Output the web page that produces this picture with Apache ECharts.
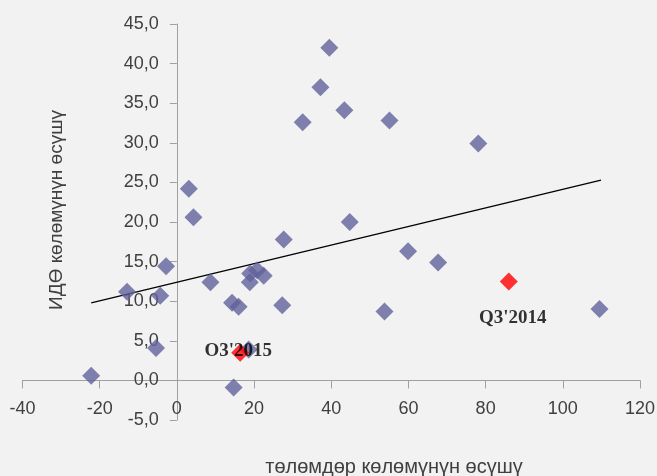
<!DOCTYPE html>
<html>
<head>
<meta charset="utf-8">
<script src="https://cdn.jsdelivr.net/npm/echarts@6/dist/echarts.min.js"></script>
<style>
html,body{margin:0;padding:0;background:#f2f2f2;}
#c{width:657px;height:476px;}
</style>
</head>
<body>
<div id="c"></div>
<script>
// Blue points: payments volume growth (x) vs FDI volume growth (y)
var blueX = [-22.2, -12.9, -5.4, -4.3, -2.8, 3.1, 4.3, 8.7, 14.3, 16.0, 14.7, 18.6, 18.9, 19.0, 20.8, 22.5, 27.3, 27.7, 32.6, 37.2, 39.5, 43.4, 44.8, 55.1, 53.8, 59.9, 67.7, 78.1, 109.5];
var blueY = [0.6, 11.2, 4.1, 10.7, 14.4, 24.2, 20.6, 12.4, 9.8, 9.3, -0.9, 3.9, 12.4, 13.5, 13.9, 13.2, 9.5, 17.8, 32.6, 37.0, 42.0, 34.1, 20.0, 32.8, 8.7, 16.3, 14.9, 29.9, 9.0];
// Highlighted points
var redNames = ["O3'2015", "Q3'2014"];
var redX = [16.4, 86.0];
var redY = [3.5, 12.5];
// Trend line end points
var trendX = [-22.2, 109.9];
var trendY = [9.8, 25.3];
// Axis titles
var xTitle = 'төлөмдөр көлөмүнүн өсүшү';
var yTitle = 'ИДӨ көлөмүнүн өсүшү';

var chart = echarts.init(document.getElementById('c'));
var axisCol = '#a0a0a0';
var txtCol = '#404040';
var font = 'Liberation Sans';

var gridL = 22.5, gridR = 17, gridT = 24, gridB = 56;
var plotW = 657 - gridL - gridR, plotH = 476 - gridT - gridB;
// shift axes so they cross at zero (labels follow the axis)
var yAxisOffset = -plotW * (0 - (-40)) / (120 - (-40));
var xAxisOffset = -plotH * (0 - (-5)) / (45 - (-5));

var blueData = blueX.map(function(x, i){ return [x, blueY[i]]; });
var redData = redX.map(function(x, i){
  return {
    value: [x, redY[i]],
    name: redNames[i],
    label: i === 1 ? {offset: [4, 37]} : {offset: [-2, -2]}
  };
});
var trendData = trendX.map(function(x, i){ return [x, trendY[i]]; });

chart.setOption({
  backgroundColor: '#f2f2f2',
  animation: false,
  grid: {left: gridL, right: gridR, top: gridT, bottom: gridB, containLabel: false, outerBoundsMode: 'none'},
  xAxis: {
    type: 'value', min: -40, max: 120, interval: 20,
    position: 'bottom', offset: xAxisOffset,
    axisLine: {onZero: false, lineStyle: {color: axisCol, width: 1}},
    axisTick: {show: true, length: 8, lineStyle: {color: axisCol}},
    splitLine: {show: false},
    axisLabel: {color: txtCol, fontFamily: font, fontSize: 18, margin: 20}
  },
  yAxis: {
    type: 'value', min: -5, max: 45, interval: 5,
    position: 'left', offset: yAxisOffset,
    axisLine: {show: true, onZero: false, lineStyle: {color: axisCol, width: 1}},
    axisTick: {show: true, length: 7, lineStyle: {color: axisCol}},
    splitLine: {show: false},
    axisLabel: {color: txtCol, fontFamily: font, fontSize: 18, margin: 18,
      formatter: function(v){ return v.toFixed(1).replace('.', ','); }}
  },
  series: [
    {
      type: 'line', data: trendData, symbol: 'none', silent: true,
      lineStyle: {color: '#000', width: 1.3}, z: 2
    },
    {
      type: 'scatter', data: blueData, symbol: 'diamond', symbolSize: 18,
      itemStyle: {color: '#62629c'}, z: 3
    },
    {
      type: 'scatter', data: redData, symbol: 'diamond', symbolSize: 18,
      itemStyle: {color: '#ff0000'}, z: 4,
      label: {
        show: true, position: 'inside', formatter: '{b}',
        color: '#000', fontFamily: 'Liberation Serif', fontWeight: 'bold', fontSize: 19
      }
    }
  ],
  graphic: [
    {
      type: 'text', x: 394, y: 467,
      style: {text: xTitle, fill: txtCol, font: '20px "Liberation Sans"', textAlign: 'center', textVerticalAlign: 'middle'}
    },
    {
      type: 'text', x: 57, y: 210, rotation: Math.PI / 2,
      style: {text: yTitle, fill: txtCol, font: '19px "Liberation Sans"', textAlign: 'center', textVerticalAlign: 'middle'}
    }
  ]
});
</script>
</body>
</html>
